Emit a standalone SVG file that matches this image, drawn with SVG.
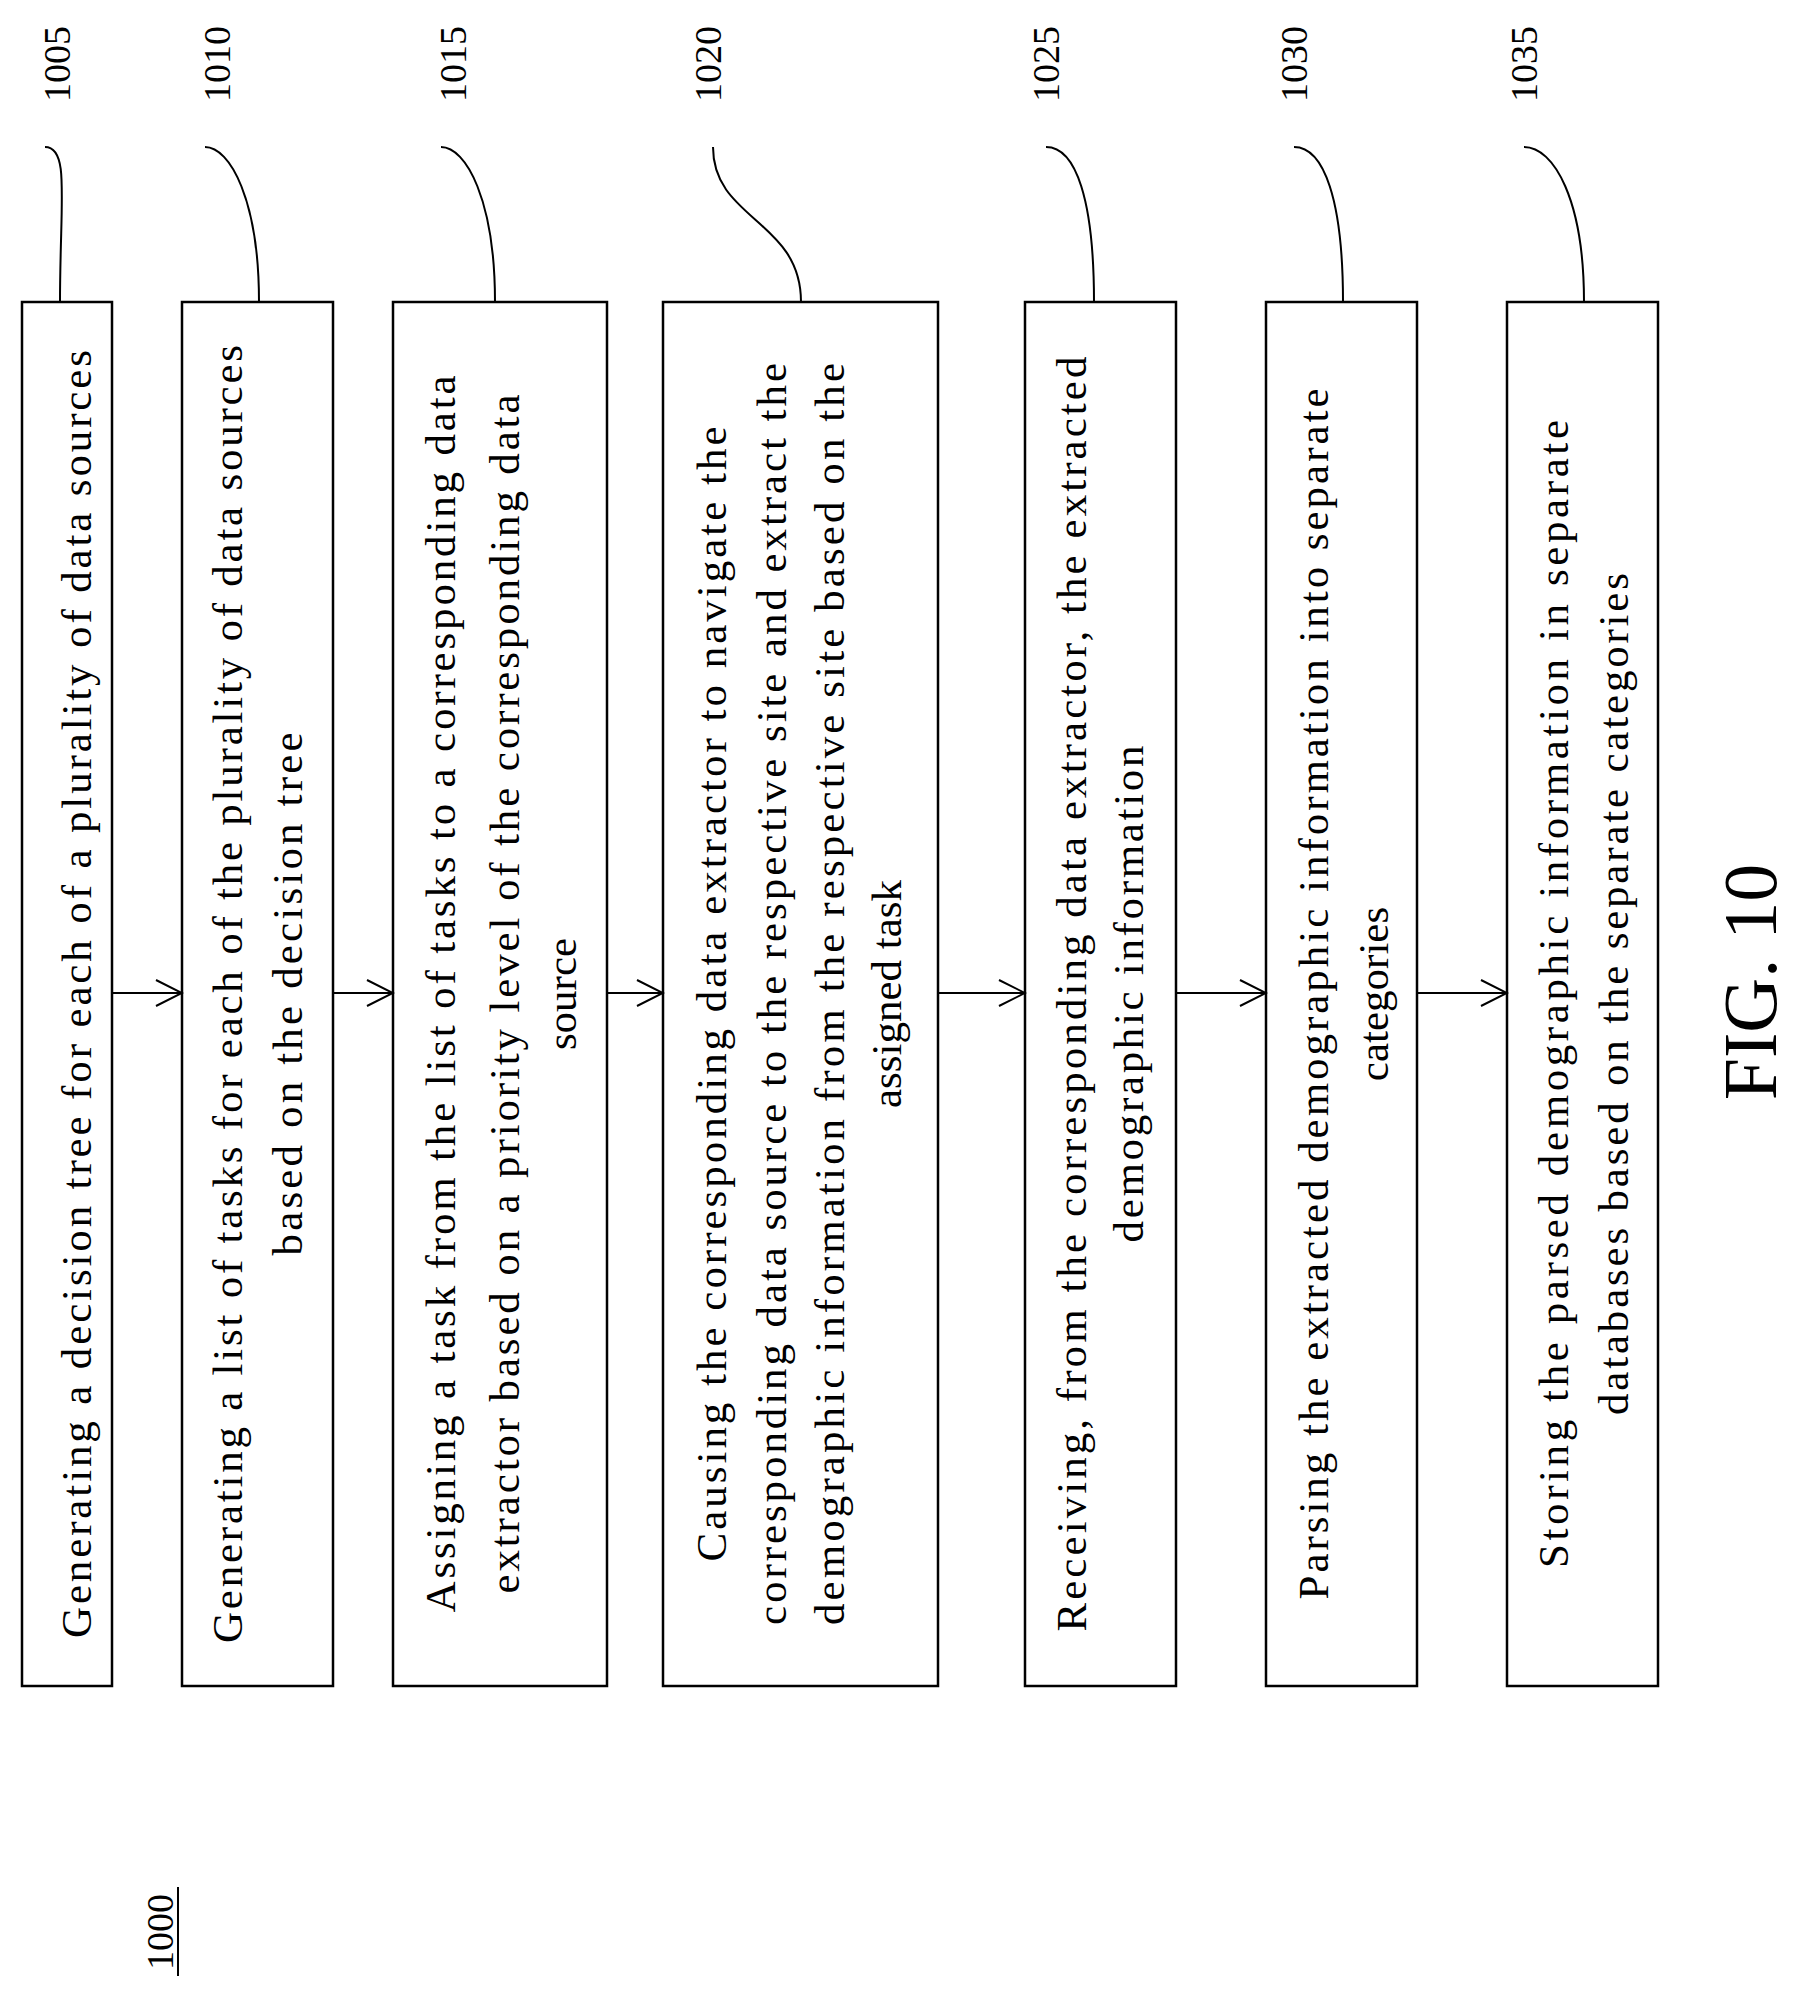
<svg xmlns="http://www.w3.org/2000/svg" width="1800" height="1992" viewBox="0 0 1800 1992">
<defs>
<style>
.b{fill:#fff;stroke:#000;stroke-width:2.5}
.t{font-family:"Liberation Serif",serif;font-size:43px;text-anchor:middle;fill:#000}
.n{font-family:"Liberation Serif",serif;font-size:38px;text-anchor:middle;fill:#000}
.l{fill:none;stroke:#000;stroke-width:2}
</style>
<marker id="a" markerWidth="30" markerHeight="30" refX="28" refY="15" orient="auto" markerUnits="userSpaceOnUse"><path d="M2,2 L28,15 L2,28" fill="none" stroke="#000" stroke-width="2"/></marker>
</defs>
<rect width="1800" height="1992" fill="#fff"/>
<g id="n1005"><rect class="b" x="22" y="302" width="90" height="1384"/>
<text class="t" transform="rotate(-90)" x="-994" y="91" textLength="1288" lengthAdjust="spacing">Generating a decision tree for each of a plurality of data sources</text></g>
<g id="n1010"><rect class="b" x="182" y="302" width="151" height="1384"/>
<text class="t" transform="rotate(-90)" x="-994" y="242" textLength="1298" lengthAdjust="spacing">Generating a list of tasks for each of the plurality of data sources</text>
<text class="t" transform="rotate(-90)" x="-994" y="302" textLength="523" lengthAdjust="spacing">based on the decision tree</text></g>
<g id="n1015"><rect class="b" x="393" y="302" width="214" height="1384"/>
<text class="t" transform="rotate(-90)" x="-994" y="455" textLength="1237" lengthAdjust="spacing">Assigning a task from the list of tasks to a corresponding data</text>
<text class="t" transform="rotate(-90)" x="-994" y="519" textLength="1199" lengthAdjust="spacing">extractor based on a priority level of the corresponding data</text>
<text class="t" transform="rotate(-90)" x="-994" y="576">source</text></g>
<g id="n1020"><rect class="b" x="663" y="302" width="275" height="1384"/>
<text class="t" transform="rotate(-90)" x="-994" y="726" textLength="1135" lengthAdjust="spacing">Causing the corresponding data extractor to navigate the</text>
<text class="t" transform="rotate(-90)" x="-994" y="786" textLength="1262" lengthAdjust="spacing">corresponding data source to the respective site and extract the</text>
<text class="t" transform="rotate(-90)" x="-994" y="844" textLength="1262" lengthAdjust="spacing">demographic information from the respective site based on the</text>
<text class="t" transform="rotate(-90)" x="-994" y="901">assigned task</text></g>
<g id="n1025"><rect class="b" x="1025" y="302" width="151" height="1384"/>
<text class="t" transform="rotate(-90)" x="-994" y="1086" textLength="1275" lengthAdjust="spacing">Receiving, from the corresponding data extractor, the extracted</text>
<text class="t" transform="rotate(-90)" x="-994" y="1143" textLength="497" lengthAdjust="spacing">demographic information</text></g>
<g id="n1030"><rect class="b" x="1266" y="302" width="151" height="1384"/>
<text class="t" transform="rotate(-90)" x="-994" y="1328" textLength="1211" lengthAdjust="spacing">Parsing the extracted demographic information into separate</text>
<text class="t" transform="rotate(-90)" x="-994" y="1388">categories</text></g>
<g id="n1035"><rect class="b" x="1507" y="302" width="151" height="1384"/>
<text class="t" transform="rotate(-90)" x="-994" y="1568" textLength="1148" lengthAdjust="spacing">Storing the parsed demographic information in separate</text>
<text class="t" transform="rotate(-90)" x="-994" y="1628" textLength="842" lengthAdjust="spacing">databases based on the separate categories</text></g>
<g id="connectors">
<line class="l" x1="112" y1="993" x2="182" y2="993" marker-end="url(#a)"/>
<line class="l" x1="333" y1="993" x2="393" y2="993" marker-end="url(#a)"/>
<line class="l" x1="607" y1="993" x2="663" y2="993" marker-end="url(#a)"/>
<line class="l" x1="938" y1="993" x2="1025" y2="993" marker-end="url(#a)"/>
<line class="l" x1="1176" y1="993" x2="1266" y2="993" marker-end="url(#a)"/>
<line class="l" x1="1417" y1="993" x2="1507" y2="993" marker-end="url(#a)"/>
<path class="l" d="M45,147 C70,147 60,200 60,302"/>
<path class="l" d="M205,147 C230,147 259,200 259,302"/>
<path class="l" d="M441,147 C466,147 495,200 495,302"/>
<path class="l" d="M713,147 C713,220 801,220 801,302"/>
<path class="l" d="M1046,147 C1076,147 1094,200 1094,302"/>
<path class="l" d="M1294,147 C1324,147 1343,200 1343,302"/>
<path class="l" d="M1524,147 C1554,147 1584,200 1584,302"/>
</g>
<g id="labels">
<text class="n" transform="rotate(-90)" x="-64" y="70">1005</text>
<text class="n" transform="rotate(-90)" x="-64" y="230">1010</text>
<text class="n" transform="rotate(-90)" x="-64" y="466">1015</text>
<text class="n" transform="rotate(-90)" x="-64" y="721">1020</text>
<text class="n" transform="rotate(-90)" x="-64" y="1059">1025</text>
<text class="n" transform="rotate(-90)" x="-64" y="1307">1030</text>
<text class="n" transform="rotate(-90)" x="-64" y="1537">1035</text>
<text class="n" transform="rotate(-90)" x="-1932" y="173">1000</text>
<line class="l" x1="178" y1="1887" x2="178" y2="1976"/>
<text transform="rotate(-90)" x="-982" y="1776" style="font-family:'Liberation Serif',serif;font-size:76px;text-anchor:middle">FIG. 10</text>
</g>
</svg>
